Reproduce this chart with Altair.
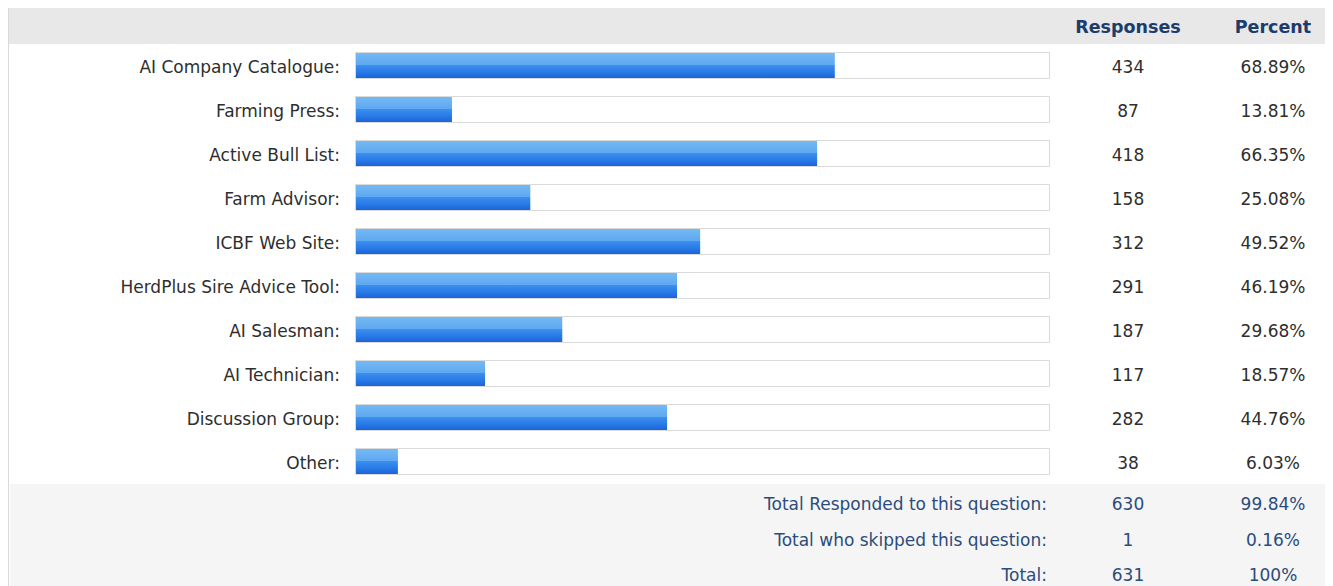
import altair as alt
import pandas as pd

categories = ["AI Company Catalogue:", "Farming Press:", "Active Bull List:", "Farm Advisor:",
              "ICBF Web Site:", "HerdPlus Sire Advice Tool:", "AI Salesman:", "AI Technician:",
              "Discussion Group:", "Other:"]
responses = [434, 87, 418, 158, 312, 291, 187, 117, 282, 38]
percents = [68.89, 13.81, 66.35, 25.08, 49.52, 46.19, 29.68, 18.57, 44.76, 6.03]

footer_labels = ["Total Responded to this question:", "Total who skipped this question:", "Total:"]
footer_responses = ["630", "1", "631"]
footer_percents = ["99.84%", "0.16%", "100%"]
footer_y = [495, 531, 566]

header_labels = ["Responses", "Percent"]

W, H = 1317, 578
FONT = "DejaVu Sans"
NAVY = "#1d3c6b"
FOOT = "#2b4c7c"
FS = 17

df = pd.DataFrame({
    "cat": categories,
    "resp": responses,
    "pct": percents,
    "row": list(range(len(categories))),
})
df["pct_label"] = [f"{p:.2f}%" for p in percents]
df["resp_label"] = [str(r) for r in responses]

fdf = pd.DataFrame({"label": footer_labels, "resp": footer_responses,
                    "pct": footer_percents, "fy": footer_y})

xscale = alt.Scale(domain=[0, 100], range=[348, 1043])
yscale = alt.Scale(domain=[0, 9], range=[57.5, 453.5])

base = alt.Chart(df)

# backgrounds
header_band = alt.Chart(pd.DataFrame({"a": [0]})).mark_rect(color="#e8e8e8").encode(
    x=alt.value(1), x2=alt.value(W), y=alt.value(0), y2=alt.value(36))
footer_band = alt.Chart(pd.DataFrame({"a": [0]})).mark_rect(color="#f5f5f5").encode(
    x=alt.value(2), x2=alt.value(W), y=alt.value(476), y2=alt.value(H))
left_rule = alt.Chart(pd.DataFrame({"a": [0]})).mark_rule(color="#d9d9d9", strokeWidth=1).encode(
    x=alt.value(0.5), y=alt.value(0), y2=alt.value(H))

track = base.transform_calculate(
    y0="datum.row - 0.2955", y1="datum.row + 0.2955"
).mark_rect(fill="white", stroke="#dadada", strokeWidth=1).encode(
    x=alt.value(347.5), x2=alt.value(1041.5),
    y=alt.Y("y0:Q", scale=yscale, axis=None),
    y2="y1:Q",
)

grad = alt.Gradient(
    gradient="linear", x1=0, x2=0, y1=0, y2=1,
    stops=[
        alt.GradientStop(offset=0, color="#74b9f4"),
        alt.GradientStop(offset=0.46, color="#5fa9f0"),
        alt.GradientStop(offset=0.5, color="#3b8eef"),
        alt.GradientStop(offset=0.75, color="#2a7be7"),
        alt.GradientStop(offset=1, color="#1b63d9"),
    ],
)

bars = base.transform_calculate(
    y0="datum.row - 0.284", y1="datum.row + 0.284", zero="0"
).mark_rect(fill=grad).encode(
    x=alt.X("zero:Q", scale=xscale, axis=None),
    x2="pct:Q",
    y=alt.Y("y0:Q", scale=yscale, axis=None),
    y2="y1:Q",
)

txt = dict(font=FONT, fontSize=FS, baseline="middle", dy=2)

labels = base.mark_text(align="right", color="#2e2e2e", **txt).encode(
    x=alt.value(332), y=alt.Y("row:Q", scale=yscale, axis=None), text="cat:N")
resp_t = base.mark_text(align="center", color="#2e2e2e", **txt).encode(
    x=alt.value(1120), y=alt.Y("row:Q", scale=yscale, axis=None), text="resp_label:N")
pct_t = base.mark_text(align="center", color="#2e2e2e", **txt).encode(
    x=alt.value(1265), y=alt.Y("row:Q", scale=yscale, axis=None), text="pct_label:N")

hdr = alt.Chart(pd.DataFrame({"h": header_labels}))
hdr1 = hdr.transform_filter("datum.h == 'Responses'").mark_text(
    align="center", color=NAVY, fontWeight="bold", font=FONT, fontSize=17.5, baseline="middle"
).encode(x=alt.value(1120), y=alt.value(20), text="h:N")
hdr2 = hdr.transform_filter("datum.h == 'Percent'").mark_text(
    align="center", color=NAVY, fontWeight="bold", font=FONT, fontSize=17.5, baseline="middle"
).encode(x=alt.value(1265), y=alt.value(20), text="h:N")

fb = alt.Chart(fdf)
fscale = alt.Scale(domain=[0, 1000], range=[0, 1000])
f_lab = fb.mark_text(align="right", color=FOOT, **txt).encode(
    x=alt.value(1039), y=alt.Y("fy:Q", scale=fscale, axis=None), text="label:N")
f_resp = fb.mark_text(align="center", color=FOOT, **txt).encode(
    x=alt.value(1120), y=alt.Y("fy:Q", scale=fscale, axis=None), text="resp:N")
f_pct = fb.mark_text(align="center", color=FOOT, **txt).encode(
    x=alt.value(1265), y=alt.Y("fy:Q", scale=fscale, axis=None), text="pct:N")

footer = alt.layer(f_lab, f_resp, f_pct)
main = alt.layer(track, bars, labels, resp_t, pct_t)

chart = alt.layer(
    header_band, footer_band, left_rule, hdr1, hdr2, main, footer
).resolve_scale(y="independent").properties(
    width=W, height=H, padding=0, autosize=alt.AutoSizeParams(type="none"),
    background="white",
).configure_view(stroke=None)

chart.save("out.html", embed_options={"renderer": "svg", "actions": False})
